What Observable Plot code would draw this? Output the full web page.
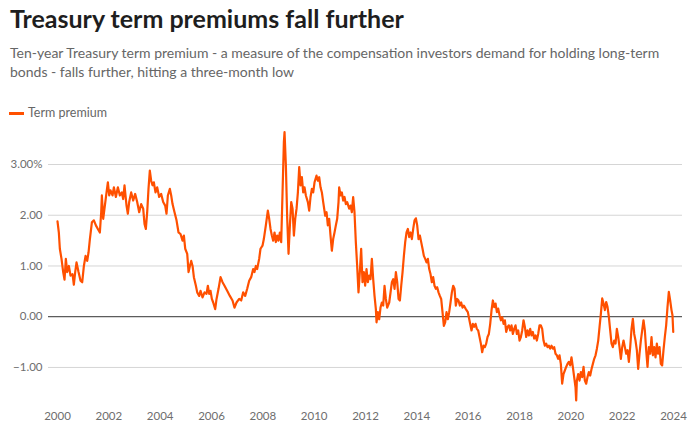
<!DOCTYPE html>
<html>
<head>
<meta charset="utf-8">
<script src="https://cdn.jsdelivr.net/npm/d3@7"></script>
<script src="https://cdn.jsdelivr.net/npm/@observablehq/plot@0.6"></script>
<style>
  html, body { margin: 0; padding: 0; background: #fff; }
  #wrap { position: relative; width: 698px; height: 432px; overflow: hidden; font-family: Lato, "Open Sans", sans-serif; }
  .title { position: absolute; left: 10px; top: 6px; font-size: 25px; line-height: 25px; font-weight: 700; color: #1e1e1e; white-space: nowrap; }
  .sub { position: absolute; left: 10px; top: 43.4px; font-size: 14px; line-height: 19px; color: #666; white-space: nowrap; }
  .swatch { position: absolute; left: 9px; top: 112px; width: 15px; height: 2.5px; background: #ff5000; }
  .legend { position: absolute; left: 28px; top: 106px; font-size: 12.5px; line-height: 13px; color: #666; white-space: nowrap; }
  #chart { position: absolute; left: 0; top: 125px; }
</style>
</head>
<body>
<div id="wrap">
  <div class="title">Treasury term premiums fall further</div>
  <div class="sub">Ten-year Treasury term premium - a measure of the compensation investors demand for holding long-term<br>bonds - falls further, hitting a three-month low</div>
  <div class="swatch"></div>
  <div class="legend">Term premium</div>
  <div id="chart"></div>
</div>
<script>
// [decimal year, term premium %]
const premium2000s = [
  [2000.000,1.88],[2000.052,1.66],[2000.091,1.34],[2000.156,1.14],[2000.221,0.88],[2000.273,0.73],[2000.325,1.14],[2000.377,0.88],[2000.442,1.0],[2000.506,0.81],
  [2000.584,0.84],[2000.636,0.63],[2000.688,0.88],[2000.740,1.07],[2000.818,0.88],[2000.896,0.71],[2000.961,0.68],[2001.026,1.0],[2001.091,1.2],[2001.156,1.1],
  [2001.208,1.27],[2001.260,1.53],[2001.338,1.86],[2001.416,1.9],[2001.494,1.8],[2001.571,1.73],[2001.649,1.66],[2001.701,2.06],[2001.727,2.39],[2001.779,1.93],
  [2001.844,2.19],[2001.909,2.45],[2001.961,2.65],[2002.013,2.39],[2002.065,2.49],[2002.143,2.39],[2002.195,2.55],[2002.273,2.36],[2002.351,2.55],[2002.429,2.39],
  [2002.506,2.45],[2002.558,2.32],[2002.610,2.59],[2002.688,2.19],[2002.740,2.03],[2002.792,2.26],[2002.870,2.45],[2002.948,2.29],[2003.026,2.42],[2003.104,2.26],
  [2003.182,2.06],[2003.260,2.22],[2003.338,2.13],[2003.390,1.83],[2003.442,1.73],[2003.494,2.06],[2003.545,2.52],[2003.597,2.88],[2003.649,2.68],[2003.701,2.59],
  [2003.753,2.65],[2003.818,2.45],[2003.883,2.55],[2003.961,2.36],[2004.039,2.42],[2004.117,2.26],[2004.195,2.19],[2004.247,2.03],[2004.299,2.39],[2004.377,2.52],
  [2004.429,2.39],[2004.481,2.22],[2004.558,2.06],[2004.636,1.9],[2004.714,1.66],[2004.792,1.63],[2004.870,1.5],[2004.922,1.6],[2004.974,1.34],[2005.052,1.24],
  [2005.104,0.88],[2005.156,1.0],[2005.208,1.1],[2005.260,1.0],[2005.312,0.78],[2005.390,0.61],[2005.442,0.48],[2005.519,0.41],[2005.571,0.51],[2005.649,0.38],
  [2005.727,0.48],[2005.805,0.45],[2005.857,0.61],[2005.909,0.45],[2005.961,0.51],[2006.013,0.35],[2006.065,0.28],[2006.143,0.15],[2006.195,0.35],[2006.273,0.55],
  [2006.351,0.78],[2006.429,0.68],[2006.506,0.61],[2006.610,0.51],[2006.714,0.41],[2006.818,0.32],[2006.896,0.18],[2006.974,0.28],[2007.078,0.35],[2007.156,0.32],
  [2007.234,0.48],[2007.312,0.41],[2007.390,0.55],[2007.468,0.71],[2007.545,0.78],[2007.623,0.94],[2007.675,0.88],[2007.727,1.0],[2007.779,0.94],[2007.857,1.14],
  [2007.909,1.34],[2007.987,1.4]
];
const premium2010s = [
  [2008.039,1.53],[2008.117,1.8],[2008.195,2.09],[2008.247,1.93],[2008.299,1.73],[2008.351,1.6],[2008.403,1.5],[2008.455,1.66],[2008.506,1.47],[2008.558,1.6],
  [2008.610,1.5],[2008.662,1.66],[2008.714,1.47],[2008.766,2.45],[2008.818,3.44],[2008.844,3.64],[2008.896,2.98],[2008.948,1.93],[2009.000,1.24],[2009.052,1.8],
  [2009.104,2.26],[2009.156,2.13],[2009.208,1.6],[2009.260,1.93],[2009.312,2.13],[2009.364,2.45],[2009.416,2.95],[2009.468,2.59],[2009.519,2.75],[2009.571,2.45],
  [2009.623,2.55],[2009.675,2.39],[2009.753,2.26],[2009.805,2.09],[2009.857,2.36],[2009.909,2.52],[2009.961,2.45],[2010.013,2.65],[2010.091,2.78],[2010.143,2.68],
  [2010.195,2.75],[2010.247,2.55],[2010.299,2.45],[2010.351,2.26],[2010.429,1.99],[2010.481,2.06],[2010.532,1.8],[2010.584,1.93],[2010.636,1.6],[2010.688,1.3],
  [2010.740,1.53],[2010.792,1.66],[2010.844,1.8],[2010.896,1.93],[2010.948,2.26],[2010.974,2.55],[2011.026,2.39],[2011.078,2.45],[2011.130,2.29],[2011.182,2.36],
  [2011.234,2.22],[2011.286,2.26],[2011.364,2.13],[2011.416,2.19],[2011.468,2.06],[2011.519,2.36],[2011.571,2.06],[2011.623,1.47],[2011.675,1.0],[2011.727,0.48],
  [2011.779,0.88],[2011.831,1.34],[2011.883,0.68],[2011.935,0.88],[2011.987,0.61],[2012.039,0.94],[2012.091,0.68],[2012.143,0.81],[2012.195,0.74],[2012.247,1.14],
  [2012.299,0.74],[2012.351,0.41],[2012.403,0.15],[2012.429,-0.11],[2012.481,0.09],[2012.532,-0.05],[2012.584,0.18],[2012.636,0.28],[2012.688,0.22],[2012.740,0.61],
  [2012.792,0.35],[2012.844,0.18],[2012.922,0.28],[2012.974,0.48],[2013.026,0.68],[2013.078,0.74],[2013.130,0.55],[2013.182,0.88],[2013.234,0.68],[2013.286,0.35],
  [2013.338,0.32],[2013.390,0.61],[2013.442,0.88],[2013.494,1.2],[2013.545,1.47],[2013.597,1.66],[2013.649,1.73],[2013.701,1.57],[2013.753,1.66],[2013.805,1.53],
  [2013.857,1.73],[2013.909,1.9],[2013.961,1.94],[2014.013,1.8],[2014.065,1.53],[2014.117,1.6],[2014.169,1.47],[2014.221,1.34],[2014.273,1.2],[2014.325,1.14],
  [2014.377,1.07],[2014.429,1.14],[2014.481,0.94],[2014.532,0.84],[2014.584,0.68],[2014.636,0.78],[2014.688,0.61],[2014.740,0.55],[2014.792,0.58],[2014.844,0.48],
  [2014.896,0.41],[2014.948,0.35],[2015.000,0.09],[2015.052,-0.18],[2015.104,-0.11],[2015.156,0.09],[2015.208,-0.05],[2015.260,0.09],[2015.312,0.28],[2015.364,0.48],
  [2015.416,0.61],[2015.468,0.55],[2015.519,0.22],[2015.571,0.35],[2015.623,0.32],[2015.675,0.22],[2015.727,0.28],[2015.779,0.18],[2015.831,0.22],[2015.909,0.15],
  [2015.987,0.09],[2016.065,-0.11]
];
const premium2020s = [
  [2016.130,-0.27],[2016.182,-0.14],[2016.234,-0.2],[2016.286,-0.14],[2016.338,-0.24],[2016.390,-0.27],[2016.442,-0.4],[2016.494,-0.53],[2016.545,-0.7],[2016.597,-0.57],
  [2016.649,-0.6],[2016.701,-0.53],[2016.753,-0.4],[2016.805,-0.34],[2016.857,-0.14],[2016.909,0.13],[2016.961,0.32],[2017.013,0.19],[2017.065,0.26],[2017.117,0.09],
  [2017.169,0.16],[2017.221,0.03],[2017.273,-0.07],[2017.325,-0.01],[2017.377,-0.14],[2017.429,-0.07],[2017.481,-0.3],[2017.532,-0.2],[2017.584,-0.17],[2017.636,-0.27],
  [2017.688,-0.17],[2017.740,-0.34],[2017.792,-0.24],[2017.844,-0.17],[2017.896,-0.34],[2017.948,-0.27],[2018.000,-0.47],[2018.052,-0.4],[2018.104,-0.27],[2018.156,-0.07],
  [2018.208,-0.2],[2018.260,-0.4],[2018.312,-0.27],[2018.364,-0.37],[2018.416,-0.24],[2018.468,-0.37],[2018.519,-0.3],[2018.571,-0.43],[2018.623,-0.37],[2018.675,-0.47],
  [2018.727,-0.34],[2018.779,-0.17],[2018.831,-0.17],[2018.883,-0.24],[2018.935,-0.47],[2018.987,-0.57],[2019.039,-0.53],[2019.091,-0.6],[2019.143,-0.57],[2019.195,-0.63],
  [2019.247,-0.57],[2019.299,-0.63],[2019.351,-0.6],[2019.403,-0.73],[2019.455,-0.76],[2019.506,-0.83],[2019.558,-0.76],[2019.610,-0.93],[2019.662,-1.32],[2019.714,-1.13],
  [2019.766,-1.06],[2019.818,-0.99],[2019.870,-0.93],[2019.922,-0.89],[2019.974,-0.96],[2020.026,-0.8],[2020.078,-0.99],[2020.130,-1.19],[2020.182,-1.39],[2020.208,-1.65],
  [2020.234,-1.26],[2020.286,-1.13],[2020.338,-1.26],[2020.390,-1.09],[2020.442,-1.19],[2020.494,-0.99],[2020.545,-1.26],[2020.597,-1.32],[2020.649,-1.19],[2020.701,-1.09],
  [2020.753,-1.16],[2020.805,-1.03],[2020.857,-0.93],[2020.909,-0.83],[2020.961,-0.76],[2021.013,-0.63],[2021.065,-0.47],[2021.117,-0.2],[2021.169,0.06],[2021.221,0.36],
  [2021.273,0.26],[2021.325,0.13],[2021.377,0.29],[2021.429,0.19],[2021.481,-0.01],[2021.532,-0.27],[2021.584,-0.53],[2021.636,-0.6],[2021.688,-0.47],[2021.740,-0.53],
  [2021.792,-0.24],[2021.844,-0.4],[2021.896,-0.6],[2021.948,-0.83],[2022.000,-0.6],[2022.052,-0.47],[2022.104,-0.6],[2022.156,-0.73],[2022.208,-0.66],[2022.260,-0.89],
  [2022.312,-0.6],[2022.364,-0.24],[2022.416,-0.04],[2022.468,-0.34],[2022.519,-0.47],[2022.571,-0.66],[2022.623,-1.03],[2022.675,-0.73],[2022.727,-0.47],[2022.779,-0.27],
  [2022.831,-0.07],[2022.883,-0.27],[2022.935,-0.66],[2022.987,-0.99],[2023.039,-0.6],[2023.091,-0.73],[2023.143,-0.4],[2023.195,-0.76],[2023.247,-0.6],[2023.299,-0.8],
  [2023.351,-0.53],[2023.403,-0.73],[2023.455,-0.6],[2023.506,-0.93],[2023.558,-0.96],[2023.610,-0.66],[2023.662,-0.4],[2023.714,-0.17],[2023.766,0.19],[2023.818,0.49],
  [2023.870,0.32],[2023.922,0.13],[2023.960,0.03],[2023.990,-0.3]
];

const xTickYears = [2000, 2002, 2004, 2006, 2008, 2010, 2012, 2014, 2016, 2018, 2020, 2022, 2024];
const yTicks = [-1, 0, 1, 2, 3];
const yTickLabels = ["\u22121.00", "0.00", "1.00", "2.00", "3.00%"];
const gridValues = [-1, 1, 2, 3];
const seriesName = "Term premium";

function toDate(y) {
  const yr = Math.floor(y);
  const s = Date.UTC(yr, 0, 1), e = Date.UTC(yr + 1, 0, 1);
  return new Date(s + (y - yr) * (e - s));
}

const data = [...premium2000s, ...premium2010s, ...premium2020s]
  .map(([t, v]) => ({date: toDate(t), value: v, series: seriesName}));

const chart = Plot.plot({
  width: 698,
  height: 307,
  marginLeft: 48,
  marginRight: 16,
  marginTop: 3.5,
  marginBottom: 27,
  style: {fontFamily: "Lato, 'Open Sans', sans-serif", fontSize: "11.5px", color: "#6e6e6e", background: "#fff", overflow: "visible"},
  x: {type: "utc", domain: [toDate(2000), toDate(2024)], insetLeft: 9, insetRight: 9, label: null},
  y: {domain: [-1.75, 3.7], label: null},
  marks: [
    Plot.ruleY(gridValues, {stroke: "#d5d5d5", strokeWidth: 1}),
    Plot.ruleY([0], {stroke: "#333", strokeWidth: 1}),
    Plot.axisY({ticks: yTicks, tickSize: 0, tickPadding: 6, label: null,
      tickFormat: d => yTickLabels[yTicks.indexOf(d)]}),
    Plot.axisX({ticks: xTickYears.map(toDate), tickSize: 0, tickPadding: 6, label: null,
      tickFormat: d3.utcFormat("%Y")}),
    Plot.lineY(data, {x: "date", y: "value", stroke: "#ff5000", strokeWidth: 2.2, strokeLinejoin: "round", strokeLinecap: "round"})
  ]
});
document.getElementById("chart").appendChild(chart);
</script>
</body>
</html>
